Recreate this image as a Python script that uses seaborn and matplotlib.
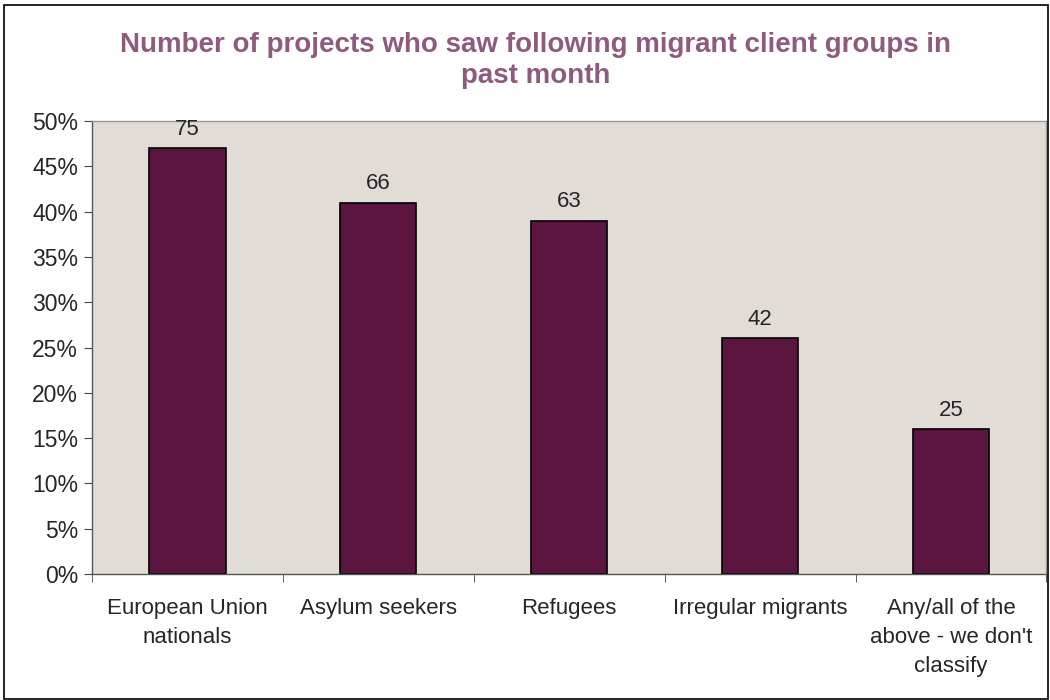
import matplotlib
matplotlib.use("Agg")
import matplotlib.pyplot as plt
import matplotlib.patches as patches
from matplotlib.ticker import FixedLocator, PercentFormatter
import seaborn as sns
import pandas as pd

# data
groups = ["European Union\nnationals", "Asylum seekers", "Refugees",
          "Irregular migrants", "Any/all of the\nabove - we don't\nclassify"]
share_pct = [47, 41, 39, 26, 16]
counts = [75, 66, 63, 42, 25]

df = pd.DataFrame({"group": groups, "pct": share_pct})

sns.set_style("white")
plt.rcParams["font.family"] = ["Liberation Sans", "DejaVu Sans"]

fig = plt.figure(figsize=(10.5, 7), dpi=100)
ax = fig.add_axes([0.0876, 0.18, 0.909, 0.647])
ax.set_facecolor("#E1DCD6")

sns.barplot(data=df, x="group", y="pct", color="#5C1440", edgecolor="black",
            linewidth=1.2, width=0.4, saturation=1, ax=ax)
ax.bar_label(ax.containers[0], labels=[str(c) for c in counts],
             padding=6, fontsize=16)

ax.set_ylim(0, 50)
ax.set_xlim(-0.5, 4.5)
ax.yaxis.set_major_locator(FixedLocator(range(0, 51, 5)))
ax.yaxis.set_major_formatter(PercentFormatter(decimals=0))
ax.tick_params(axis="y", labelsize=16.5, length=6, direction="out", left=True,
               color="#444444", pad=4)
ax.tick_params(axis="x", which="major", labelsize=16, length=0, pad=17)
ax.xaxis.set_minor_locator(FixedLocator([-0.5, 0.5, 1.5, 2.5, 3.5, 4.5]))
ax.tick_params(axis="x", which="minor", length=6, direction="out",
               bottom=True, color="#444444")
for lbl in ax.get_xticklabels():
    lbl.set_verticalalignment("top")
    lbl.set_linespacing(1.5)
ax.set_xlabel("")
ax.set_ylabel("")

for side in ["left", "bottom"]:
    ax.spines[side].set_color("#555555")
    ax.spines[side].set_linewidth(1)
for side in ["top", "right"]:
    ax.spines[side].set_color("#999999")
    ax.spines[side].set_linewidth(1)

fig.text(0.51, 0.913, "Number of projects who saw following migrant client groups in\npast month",
         ha="center", va="center", fontsize=20, fontweight="bold",
         color="#8E5A7E", linespacing=1.25)

fig.patches.append(patches.Rectangle((0.004, 0.002), 0.994, 0.991,
                                     transform=fig.transFigure, fill=False,
                                     edgecolor="black", linewidth=1.2))

fig.savefig("out.png", dpi=100)
